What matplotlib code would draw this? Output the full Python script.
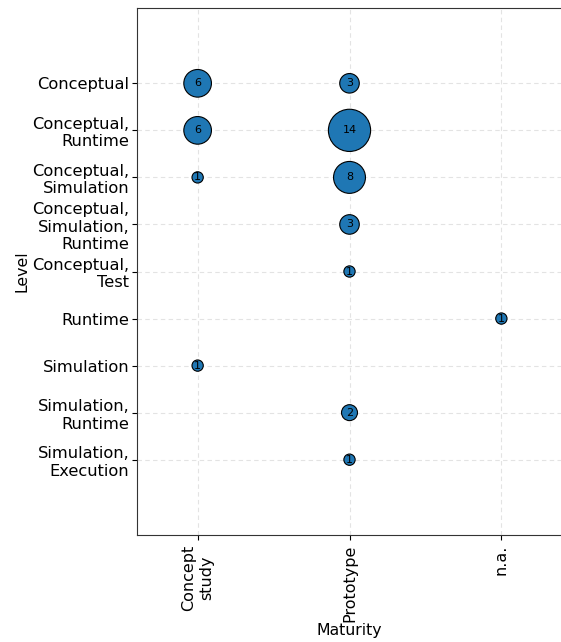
import matplotlib
matplotlib.use("Agg")
import matplotlib.pyplot as plt

maturity_levels = ["Concept\nstudy", "Prototype", "n.a."]
level_labels = [
    "Conceptual",
    "Conceptual,\nRuntime",
    "Conceptual,\nSimulation",
    "Conceptual,\nSimulation,\nRuntime",
    "Conceptual,\nTest",
    "Runtime",
    "Simulation",
    "Simulation,\nRuntime",
    "Simulation,\nExecution",
]

# (maturity index, level index, count)
point_maturity = [0, 0, 0, 0, 1, 1, 1, 1, 1, 1, 1, 2]
point_level = [0, 1, 2, 6, 0, 1, 2, 3, 4, 7, 8, 5]
point_count = [6, 6, 1, 1, 3, 14, 8, 3, 1, 2, 1, 1]

fig = plt.figure(figsize=(5.61, 6.42), dpi=100)
ax = fig.add_axes([0.244, 0.1667, 0.758, 0.8208])

ax.grid(True, linestyle=(0, (4, 3)), color="#e3e3e3", linewidth=0.8, zorder=0)
ax.set_axisbelow(True)

ax.scatter(point_maturity, point_level, s=[c * 66 for c in point_count],
           color="#1f77b4", edgecolor="black", linewidth=0.8, zorder=3)
for x, y, c in zip(point_maturity, point_level, point_count):
    ax.text(x, y, str(c), ha="center", va="center", fontsize=8, zorder=4)

ax.set_xticks(range(len(maturity_levels)))
ax.set_xticklabels(maturity_levels, rotation=90, fontsize=11.5)
ax.set_yticks(range(len(level_labels)))
ax.set_yticklabels(level_labels, fontsize=11.7)
ax.tick_params(axis="y", pad=2)
ax.set_xlim(-0.4, 2.4)
ax.set_ylim(len(level_labels) - 1 + 1.6, -1.6)

ax.set_xlabel("Maturity", fontsize=11.3, labelpad=1)
ax.set_ylabel("Level", fontsize=11.3, labelpad=2)

ax.spines["right"].set_visible(False)
for side in ("left", "bottom", "top"):
    ax.spines[side].set_color("#333333")

fig.savefig("out.png", dpi=100)
